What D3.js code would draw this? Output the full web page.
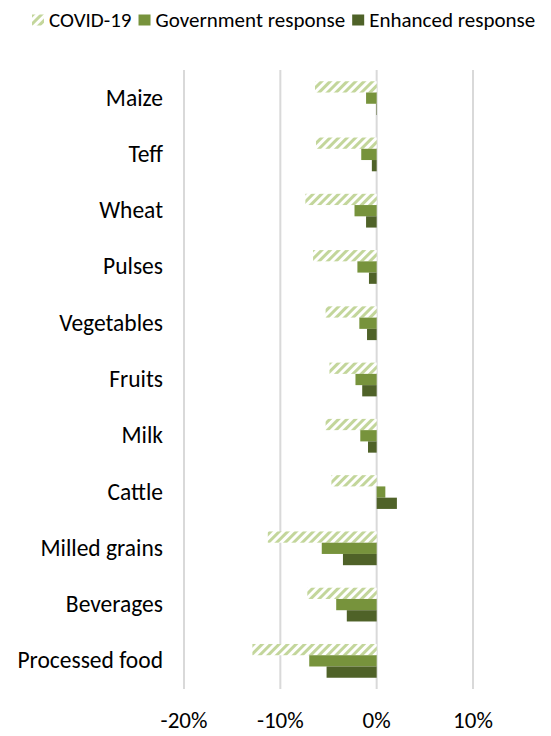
<!DOCTYPE html>
<html lang="en">
<head>
<meta charset="UTF-8">
<title>Price changes</title>
<script src="https://d3js.org/d3.v7.min.js"></script>
<style>
body { margin: 0; background: #fff; }
svg { display: block; }
text { font-family: Carlito, Lato, "Open Sans", sans-serif; fill: #000; }
.grid line { stroke: #d9d9d9; stroke-width: 2; }
</style>
</head>
<body>
<svg id="chart" width="551" height="736"></svg>
<script>
const categories = ["Maize", "Teff", "Wheat", "Pulses", "Vegetables", "Fruits", "Milk",
  "Cattle", "Milled grains", "Beverages", "Processed food"];
const seriesNames = ["COVID-19", "Government response", "Enhanced response"];
const covid = [-6.4, -6.3, -7.4, -6.6, -5.3, -4.9, -5.3, -4.7, -11.3, -7.2, -12.9];
const government = [-1.1, -1.6, -2.3, -2.0, -1.8, -2.2, -1.7, 0.9, -5.7, -4.2, -7.0];
const enhanced = [-0.05, -0.5, -1.1, -0.8, -1.0, -1.5, -0.9, 2.1, -3.5, -3.1, -5.2];
const ticks = [-20, -10, 0, 10];

const svg = d3.select("#chart");

const defs = svg.append("defs");
const hatch = defs.append("pattern")
  .attr("id", "hatch")
  .attr("patternUnits", "userSpaceOnUse")
  .attr("width", 6).attr("height", 6)
  .attr("patternTransform", "rotate(45)");
hatch.append("rect").attr("width", 6).attr("height", 6).attr("fill", "#fff");
hatch.append("rect").attr("width", 3).attr("height", 6).attr("fill", "#c3d69b");

const colors = ["url(#hatch)", "#77933c", "#4f6228"];

const x = d3.scaleLinear().domain([-20, 10]).range([184, 473]);
const y = d3.scaleBand().domain(categories).range([70, 689]);
const sub = d3.scaleBand().domain(seriesNames.map((d, i) => i))
  .range([y.bandwidth() * 0.2, y.bandwidth() * 0.8]);

// gridlines
svg.append("g").attr("class", "grid")
  .selectAll("line").data(ticks).join("line")
  .attr("x1", d => x(d)).attr("x2", d => x(d))
  .attr("y1", 70).attr("y2", 689);

// tick labels
svg.append("g").selectAll("text").data(ticks).join("text")
  .attr("x", d => x(d)).attr("y", 728)
  .attr("text-anchor", "middle")
  .style("font-size", "23px")
  .text(d => d + "%");

// category labels
svg.append("g").selectAll("text").data(categories).join("text")
  .attr("x", 163).attr("y", d => y(d) + y.bandwidth() / 2 + 7.5)
  .attr("text-anchor", "end")
  .style("font-size", "23.5px")
  .text(d => d);

const rows = categories.map((c, i) => ({ cat: c, vals: [covid[i], government[i], enhanced[i]] }));

const groups = svg.append("g").selectAll("g").data(rows).join("g")
  .attr("transform", d => `translate(0,${y(d.cat)})`);

groups.selectAll("rect")
  .data(d => d.vals.map((v, i) => ({ v, i })))
  .join("rect")
  .attr("x", d => x(Math.min(0, d.v)))
  .attr("width", d => Math.abs(x(d.v) - x(0)))
  .attr("y", d => sub(d.i))
  .attr("height", sub.bandwidth())
  .attr("fill", d => colors[d.i]);

// legend
const legend = svg.append("g").attr("transform", "translate(0,20)");
let lx = 32;
seriesNames.forEach((name, i) => {
  legend.append("rect")
    .attr("x", lx).attr("y", -5.5).attr("width", 12).attr("height", 11)
    .attr("fill", colors[i]);
  const t = legend.append("text")
    .attr("x", lx + 17).attr("y", 6.5)
    .style("font-size", "21px")
    .text(name);
  lx += 17 + t.node().getComputedTextLength() + 7;
});
</script>
</body>
</html>
